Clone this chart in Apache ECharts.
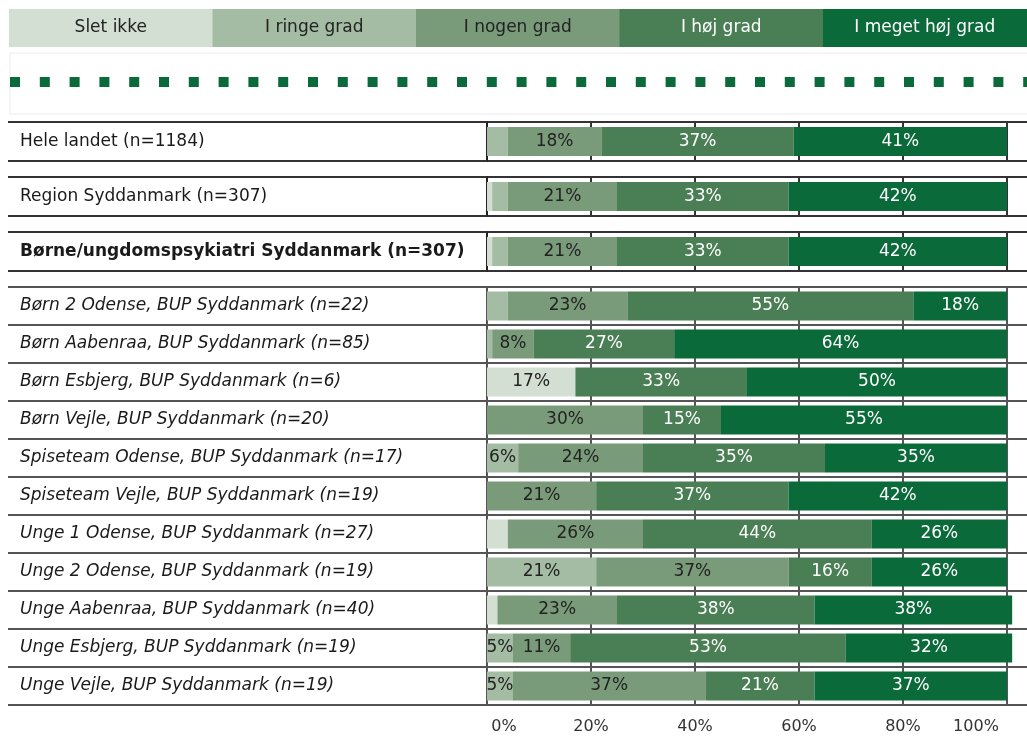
<!DOCTYPE html>
<html>
<head>
<meta charset="utf-8">
<script src="https://cdn.jsdelivr.net/npm/echarts@6/dist/echarts.min.js"></script>
<style>
  html, body { margin: 0; padding: 0; background: #fff; }
  #chart { width: 1027px; height: 736px; }
</style>
</head>
<body>
<div id="chart"></div>
<script>
// svarkategorier
var levels = ["Slet ikke", "I ringe grad", "I nogen grad", "I høj grad", "I meget høj grad"];

var units = [
  "Hele landet (n=1184)",
  "Region Syddanmark (n=307)",
  "Børne/ungdomspsykiatri Syddanmark (n=307)",
  "Børn 2 Odense, BUP Syddanmark (n=22)",
  "Børn Aabenraa, BUP Syddanmark (n=85)",
  "Børn Esbjerg, BUP Syddanmark (n=6)",
  "Børn Vejle, BUP Syddanmark (n=20)",
  "Spiseteam Odense, BUP Syddanmark (n=17)",
  "Spiseteam Vejle, BUP Syddanmark (n=19)",
  "Unge 1 Odense, BUP Syddanmark (n=27)",
  "Unge 2 Odense, BUP Syddanmark (n=19)",
  "Unge Aabenraa, BUP Syddanmark (n=40)",
  "Unge Esbjerg, BUP Syddanmark (n=19)",
  "Unge Vejle, BUP Syddanmark (n=19)"
];

// procent pr. række (aflæst)
var sletIkke      = [0, 1, 1, 0, 0, 17, 0, 0, 0, 4, 0, 2, 0, 0];
var ringeGrad     = [4, 3, 3, 4, 1, 0, 0, 6, 0, 0, 21, 0, 5, 5];
var nogenGrad     = [18, 21, 21, 23, 8, 0, 30, 24, 21, 26, 37, 23, 11, 37];
var hoejGrad      = [37, 33, 33, 55, 27, 33, 15, 35, 37, 44, 16, 38, 53, 21];
var megetHoejGrad = [41, 42, 42, 18, 64, 50, 55, 35, 42, 26, 26, 38, 32, 37];

var tickValues = [0, 20, 40, 60, 80, 100];

var values = [sletIkke, ringeGrad, nogenGrad, hoejGrad, megetHoejGrad];
var colors = ["#d3dfd3", "#a3bca3", "#7a9b7a", "#4a7e54", "#0b6a3a"];
var textColors = ["#222", "#222", "#222", "#fff", "#fff"];

// rækkegrupper: tre enkeltrækker + resten
var groups = [[0], [1], [2], [3, 4, 5, 6, 7, 8, 9, 10, 11, 12, 13]];
var tops = [122, 177, 232, 287];
var heights = [39, 39, 39, 418];

var grids = [], xAxes = [], yAxes = [], series = [];

groups.forEach(function (rows, g) {
  var last = g === groups.length - 1;
  var lineColor = last ? "#555" : "#333";
  // 5.2 px pr. procent, plotområdet går ud over billedkanten
  grids.push({ left: 487, width: 560, top: tops[g], height: heights[g], outerBoundsMode: "none" });
  xAxes.push({
    type: "value",
    gridIndex: g,
    min: 0,
    max: 107.7,
    interval: 20,
    axisLine: { show: false },
    axisTick: { show: false },
    splitLine: { show: true, lineStyle: { color: lineColor, width: 2 } },
    axisLabel: {
      show: last,
      customValues: tickValues,
      margin: 14,
      fontSize: 16,
      fontFamily: "DejaVu Sans",
      color: "#333",
      formatter: function (v) {
        if (v === 0) return "{a|0%}";
        if (v === 100) return "{b|100%}";
        return v + "%";
      },
      rich: {
        a: { padding: [0, 0, 0, 34], fontSize: 16, fontFamily: "DejaVu Sans", color: "#333" },
        b: { padding: [0, 62, 0, 0], fontSize: 16, fontFamily: "DejaVu Sans", color: "#333" }
      }
    }
  });
  yAxes.push({
    type: "category",
    gridIndex: g,
    inverse: true,
    data: rows.map(function (i) { return units[i]; }),
    axisLine: { show: true, lineStyle: { color: last ? "#555" : "#222", width: 2 } },
    axisTick: { show: true, interval: 0, length: 479, lineStyle: { color: lineColor, width: 2 } },
    splitLine: { show: true, interval: 0, lineStyle: { color: lineColor, width: 2 } },
    axisLabel: {
      interval: 0,
      align: "left",
      margin: 467,
      fontSize: 17,
      fontFamily: "DejaVu Sans",
      color: "#1a1a1a",
      fontWeight: g === 2 ? "bold" : "normal",
      fontStyle: last ? "italic" : "normal"
    }
  });
  levels.forEach(function (name, k) {
    series.push({
      name: name,
      type: "bar",
      stack: "g" + g,
      xAxisIndex: g,
      yAxisIndex: g,
      barWidth: 29,
      itemStyle: { color: colors[k] },
      label: {
        show: true,
        position: "inside",
        fontSize: 17,
        fontFamily: "DejaVu Sans",
        color: textColors[k],
        formatter: function (p) { return p.value >= 5 ? p.value + "%" : ""; }
      },
      data: rows.map(function (i) { return values[k][i]; })
    });
  });
});

// forklaring øverst som farvede felter
var graphic = [];
var boxW = 203.5;
levels.forEach(function (name, k) {
  graphic.push({
    type: "rect",
    shape: { x: 9 + k * boxW, y: 9, width: boxW + 0.5, height: 38 },
    style: { fill: colors[k] }
  });
  graphic.push({
    type: "text",
    x: 9 + k * boxW + boxW / 2,
    y: 28,
    style: {
      text: name,
      fill: textColors[k],
      font: "17px 'DejaVu Sans'",
      textAlign: "center",
      textVerticalAlign: "middle"
    }
  });
});
graphic.push({
  type: "rect",
  shape: { x: 10, y: 53, width: 1030, height: 61 },
  style: { fill: "none", stroke: "#ececec", lineWidth: 1 }
});
graphic.push({
  type: "line",
  shape: { x1: 10, y1: 82, x2: 1027, y2: 82 },
  style: { stroke: "#0b6a3a", lineWidth: 10, lineDash: [10, 19.8] }
});

var myChart = echarts.init(document.getElementById("chart"));
myChart.setOption({
  animation: false,
  grid: grids,
  xAxis: xAxes,
  yAxis: yAxes,
  series: series,
  graphic: graphic
});
</script>
</body>
</html>
